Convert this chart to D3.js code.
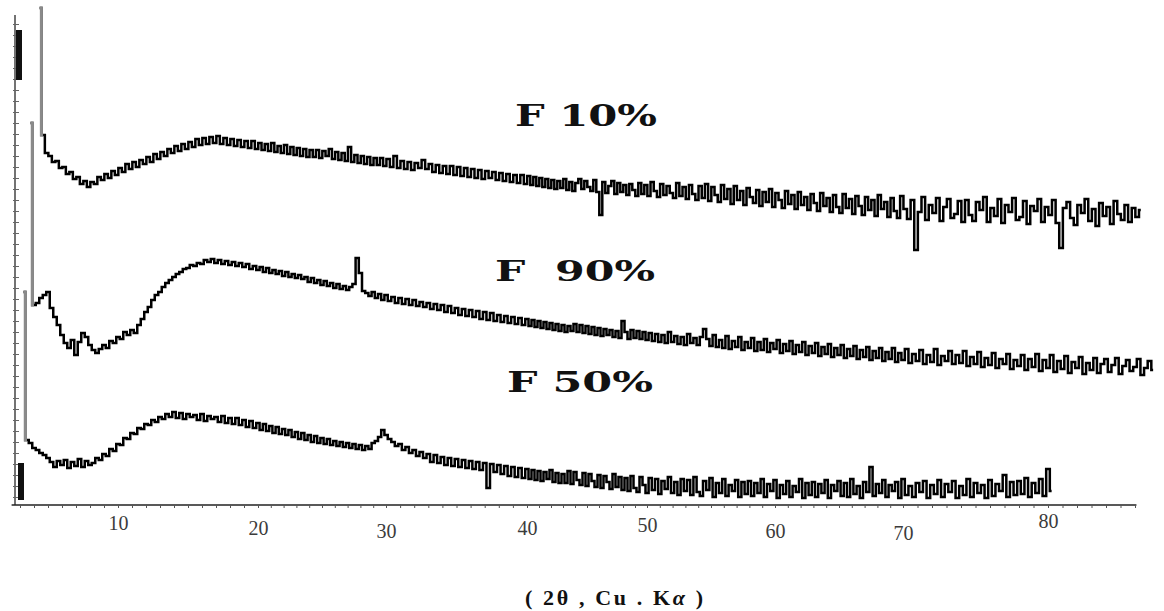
<!DOCTYPE html>
<html><head><meta charset="utf-8">
<script src="https://cdn.jsdelivr.net/npm/d3@7"></script>
<style>body{margin:0;background:#fff}svg{display:block}</style>
</head><body><svg id="chart" width="1164" height="611"></svg>
<script>
// ---------- data ----------
const xTickLabels = [10, 20, 30, 40, 50, 60, 70, 80];
const seriesNames = ["F 10%", "F  90%", "F 50%"];
const axisTitle = ["( 2θ , Cu . K", "α", " )"];
const stepDeg = 0.25;
const f10Start = 4.4, f90Start = 3.75, f50Start = 3.25;

// F 10% intensity (arb. units), one value every 0.25°
const f10 = [
 497,370,352,349,343,344,337,338,331,333,326,328,321,324,318,323,321,328,325,331,
 327,334,330,337,333,341,336,343,338,345,341,348,343,351,346,353,349,356,352,359,
 354,361,356,363,358,366,360,367,361,368,362,369,361,367,360,366,359,365,358,364,
 357,364,356,362,355,361,354,362,353,359,352,360,351,358,350,357,349,356,348,355,
 348,355,347,354,349,356,346,353,345,352,344,358,343,350,342,349,341,348,340,347,
 340,347,339,346,338,349,337,344,336,343,335,342,337,345,336,341,333,340,332,339,
 331,339,330,338,329,337,328,336,327,335,326,334,327,333,325,332,324,331,323,330,
 322,330,321,329,320,328,319,327,318,326,317,325,316,324,317,326,315,323,314,322,
 326,316,324,318,314,325,313,290,323,312,319,324,311,322,313,320,310,321,315,309,
 322,311,320,309,323,314,308,321,310,319,312,307,322,309,318,306,320,311,305,319,
 307,321,304,318,310,303,320,306,316,301,319,305,314,300,317,308,302,315,299,313,
 303,316,298,312,305,297,314,301,310,296,313,300,308,295,311,302,294,312,299,307,
 293,310,298,292,311,297,306,291,309,299,290,308,295,305,289,310,296,303,288,307,
 294,287,309,296,286,305,255,293,308,285,300,292,307,284,298,306,287,291,304,283,
 305,290,284,303,295,308,283,297,289,306,282,300,293,307,285,288,304,281,299,294,
 306,283,298,290,305,282,257,297,303,287,280,300,292,306,284,296,279,302,289,298,
 281,304,291,285,300,283,297,288,295
];
// F 90% intensity, one value every 0.25°
const f90 = [
 382,200,202,207,210,213,197,188,180,170,162,157,165,150,163,172,168,160,155,152,
 156,160,157,164,162,168,166,173,170,175,172,180,186,193,198,205,210,213,218,222,
 225,228,231,233,236,237,240,239,242,241,245,243,246,242,245,241,244,240,243,239,
 242,238,241,236,239,235,238,233,237,232,235,231,234,229,233,228,231,227,230,226,
 228,223,227,222,225,220,224,219,222,217,221,216,219,215,218,221,247,232,214,212,
 209,213,207,211,205,210,204,208,202,207,201,206,200,205,199,203,198,202,196,201,
 195,200,193,199,192,197,190,196,189,195,188,194,186,193,185,192,184,190,183,189,
 182,188,181,187,180,186,179,185,178,184,177,183,176,182,175,181,174,180,173,179,
 174,181,173,180,172,179,171,178,170,177,169,176,170,175,168,174,167,184,173,166,
 175,167,174,166,173,165,172,164,171,163,170,162,173,163,169,161,168,160,171,162,
 167,160,168,176,166,159,170,158,165,157,169,156,164,158,168,155,163,157,167,154,
 163,155,166,153,162,156,165,152,161,154,164,151,160,153,163,150,159,152,162,149,
 158,151,161,148,157,150,160,147,156,149,159,146,155,148,158,145,154,147,157,144,
 153,146,157,143,152,145,156,142,151,144,155,141,150,143,156,140,149,144,154,141,
 150,142,154,139,148,141,153,138,147,140,152,137,146,141,151,136,145,139,150,135,
 146,138,151,134,145,137,150,133,144,136,149,132,143,137,148,131,142,135,147,132,
 141,146,133,140,147,131,139,145,134,138,146,130,137,144,135
];
// F 50% intensity, one value every 0.25°
const f50 = [
 213,65,62,57,55,52,50,47,43,38,44,40,45,37,43,39,46,38,44,40,
 42,47,45,51,49,56,54,61,60,67,66,72,71,77,76,81,80,85,83,88,
 86,91,88,93,87,92,86,91,88,90,85,91,84,89,86,88,83,89,82,87,
 81,87,80,85,78,84,77,82,75,81,74,79,72,78,71,76,70,75,68,73,
 66,72,65,70,63,69,62,67,61,66,60,64,59,63,58,62,57,61,56,60,
 55,59,56,62,64,68,75,70,66,63,59,61,55,58,52,55,49,53,47,51,
 43,50,42,48,40,47,39,46,38,45,37,44,36,43,35,42,17,41,33,40,
 31,39,29,38,28,37,27,36,26,35,25,34,24,33,26,35,23,32,22,31,
 22,34,21,33,25,20,32,19,31,24,18,30,17,29,23,16,31,18,28,15,
 27,14,29,17,13,28,20,12,27,15,26,11,24,16,28,12,23,10,26,14,
 25,10,28,13,9,24,15,27,8,22,12,26,9,20,14,25,8,23,11,24,
 9,22,12,26,8,21,14,25,7,20,11,24,8,19,13,26,7,22,10,23,
 8,21,12,25,7,20,14,24,9,22,8,26,11,19,7,23,13,38,9,21,
 12,25,8,20,14,23,7,26,10,19,8,22,13,24,7,20,11,25,8,21,
 13,24,7,19,10,26,8,22,12,20,7,25,9,21,14,30,8,23,10,24,
 11,27,8,22,12,26,9,36,14
];
const yAxisBlocks = [[425, 475], [5, 42]];

// ---------- layout ----------
const xLabelPx = [118, 258, 386, 527, 647, 775, 903, 1048];
const xLabelBaseline = [530, 535, 538, 535, 532, 538, 540, 528];
const xAxisExtent = [2.4, 86.1];
const labelPos = [
  {x: 515, y: 126, len: 142, size: 29},
  {x: 495, y: 281, len: 160, size: 27},
  {x: 507, y: 392, len: 146, size: 28}
];

const svg = d3.select("#chart");
const x = d3.scaleLinear().domain(xTickLabels).range(xLabelPx);
const y = d3.scaleLinear().domain([0, 500]).range([505, 5]);

// ---------- y axis ----------
const yAxisX = 15;
svg.append("line").attr("x1", yAxisX).attr("x2", yAxisX)
  .attr("y1", y(490)).attr("y2", y(0)).attr("stroke", "#444").attr("stroke-width", 1.5);
const yAx = svg.append("g").attr("transform", `translate(${yAxisX + 4},0)`)
  .call(d3.axisLeft(y).tickValues(d3.range(8, 490, 11)).tickSize(6).tickFormat(""));
yAx.select(".domain").remove();
yAx.selectAll(".tick line").attr("stroke", "#666");
svg.selectAll("rect.blk").data(yAxisBlocks).join("rect").attr("class", "blk")
  .attr("x", (d, i) => i === 0 ? 16 : 18).attr("width", 6)
  .attr("y", d => y(d[1])).attr("height", d => y(d[0]) - y(d[1]))
  .attr("fill", "#111");

// ---------- x axis ----------
svg.append("line").attr("x1", x(xAxisExtent[0])).attr("x2", x(xAxisExtent[1]))
  .attr("y1", y(0)).attr("y2", y(0)).attr("stroke", "#222").attr("stroke-width", 1.5);
const minor = svg.append("g").attr("transform", `translate(0,${y(0)})`)
  .call(d3.axisBottom(x).tickValues(d3.range(3, 87, 1)).tickSize(3).tickFormat(""));
minor.select(".domain").remove();
minor.selectAll(".tick line").attr("stroke", "#555");

const labs = svg.append("g")
  .call(d3.axisBottom(x).tickValues(xTickLabels).tickSize(0).tickFormat(d3.format("d")));
labs.select(".domain").remove();
labs.selectAll(".tick text")
  .attr("y", (d, i) => xLabelBaseline[i]).attr("dy", 0)
  .attr("font-family", "Liberation Serif, serif").attr("font-size", 20)
  .attr("fill", "#3b3b3b");

// ---------- series ----------
const series = [
  {start: f10Start, values: f10},
  {start: f90Start, values: f90},
  {start: f50Start, values: f50}
];
const line = d3.line().x(d => x(d[0])).y(d => y(d[1])).curve(d3.curveStep);
series.forEach(s => {
  const pts = s.values.map((v, i) => [s.start + i * stepDeg, v]);
  svg.append("path").attr("d", line(pts)).attr("fill", "none")
    .attr("stroke", "#000").attr("stroke-width", 2.5).attr("stroke-linejoin", "miter");
  svg.append("path").attr("d", line(pts.slice(0, 2))).attr("fill", "none")
    .attr("stroke", "#8a8a8a").attr("stroke-width", 3);
});

// ---------- labels ----------
seriesNames.forEach((n, i) => {
  const p = labelPos[i];
  svg.append("text").attr("x", p.x).attr("y", p.y)
    .attr("font-family", "DejaVu Serif, serif").attr("font-weight", "bold")
    .attr("font-size", p.size).attr("fill", "#111")
    .attr("textLength", p.len).attr("lengthAdjust", "spacingAndGlyphs")
    .style("white-space", "pre").text(n);
});

const t = svg.append("text").attr("x", 525).attr("y", 605)
  .attr("font-family", "Liberation Serif, serif").attr("font-weight", "bold")
  .attr("font-size", 22).attr("fill", "#111")
  .attr("textLength", 178).attr("lengthAdjust", "spacing")
  .style("white-space", "pre");
t.append("tspan").text(axisTitle[0]);
t.append("tspan").attr("font-style", "italic").text(axisTitle[1]);
t.append("tspan").text(axisTitle[2]);
</script></body></html>
